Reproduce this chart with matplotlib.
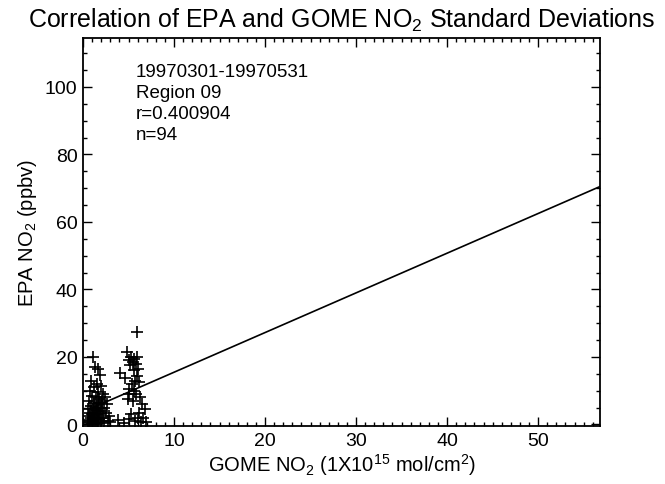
import numpy as np
import matplotlib
matplotlib.use("Agg")
import matplotlib.pyplot as plt
from matplotlib.ticker import MultipleLocator

plt.rcParams['font.family'] = ['Liberation Sans', 'DejaVu Sans']
plt.rcParams['mathtext.fontset'] = 'custom'
plt.rcParams['mathtext.rm'] = 'Liberation Sans'
plt.rcParams['mathtext.it'] = 'Liberation Sans:italic'

# GOME NO2 std (1e15 mol/cm2) and EPA NO2 std (ppbv)
gome_a = [1.1, 1.3, 1.9, 1.5, 2.0, 1.2, 0.8, 1.6, 2.2, 1.0, 1.4, 2.4, 1.8, 0.7, 1.2,
          2.0, 1.6, 2.6, 0.9, 1.4, 1.9, 2.3, 0.6, 1.1, 1.7, 2.1, 0.8, 1.3, 2.5, 1.0,
          1.5, 1.9, 0.7, 1.2, 1.6, 2.2, 0.9, 1.4, 1.8, 0.6, 1.1, 2.0, 2.7, 0.8, 1.3,
          1.7, 1.0, 1.5, 2.3, 0.5, 3.0, 2.9, 0.9, 1.7, 1.2, 2.1, 1.5, 0.7]
epa_a = [20.1, 17.1, 14.6, 12.0, 11.5, 11.0, 10.0, 9.5, 9.0, 8.5, 8.0, 8.0, 7.5, 7.0, 6.5,
         6.5, 6.0, 6.0, 5.5, 5.0, 5.0, 5.0, 4.5, 4.5, 4.0, 4.0, 3.5, 3.5, 3.5, 3.0,
         3.0, 3.0, 2.5, 2.5, 2.0, 2.0, 2.0, 1.5, 1.5, 1.2, 1.0, 1.0, 1.0, 0.6, 0.5,
         0.5, 0.2, 0.2, 0.3, 0.3, 0.8, 2.5, 13.0, 16.5, 1.8, 7.0, 4.2, 0.9]

gome_b = [5.9, 4.8, 5.3, 5.6, 5.9, 5.5, 5.8, 5.2, 4.1, 4.6, 5.9, 5.7, 6.1, 5.4, 5.0,
          5.6, 5.1, 5.8, 6.3, 4.9, 5.5, 6.5, 6.8, 6.2, 5.3, 6.0, 6.6, 5.0, 3.9, 5.7,
          6.4, 6.9, 4.5, 5.6, 6.0, 5.0]
epa_b = [27.3, 21.6, 20.0, 19.5, 20.0, 18.5, 18.0, 17.5, 15.2, 13.7, 14.5, 13.0, 12.5, 12.0, 10.5,
         10.0, 9.0, 9.0, 8.0, 7.5, 7.0, 6.0, 4.5, 3.5, 3.0, 2.0, 1.8, 1.7, 1.2, 1.0,
         0.6, 0.8, 0.5, 16.0, 16.5, 19.2]

# fitted line end points
fit_x = [1.0, 56.8]
fit_y = [4.9, 70.5]

info_lines = ["19970301-19970531", "Region 09", "r=0.400904", "n=94"]

gome = gome_a + gome_b
epa = epa_a + epa_b

fig = plt.figure(figsize=(6.65, 4.85), dpi=100)
ax = fig.add_axes([0.1248, 0.1206, 0.7775, 0.799])

ax.plot(gome, epa, linestyle='none', marker='+', markersize=8.5, mew=1.2, color='black')
ax.plot(fit_x, fit_y, color='black', linewidth=1.2)

ax.set_xlim(0, 56.8)
ax.set_ylim(-0.3, 114.5)
ax.xaxis.set_major_locator(MultipleLocator(10))
ax.xaxis.set_minor_locator(MultipleLocator(1))
ax.yaxis.set_major_locator(MultipleLocator(20))
ax.yaxis.set_minor_locator(MultipleLocator(5))
ax.tick_params(which='both', direction='in', top=True, right=True, width=1.0, labelsize=14)
ax.tick_params(which='major', length=6.7)
ax.tick_params(axis='x', pad=5)
ax.tick_params(axis='y', pad=4)
ax.tick_params(which='minor', length=3.2)
for s in ax.spines.values():
    s.set_linewidth(1.3)

ax.set_title("Correlation of EPA and GOME NO$_2$ Standard Deviations", fontsize=18, pad=8)
ax.set_xlabel("GOME NO$_2$ (1X10$^{15}$ mol/cm$^2$)", fontsize=14.5, labelpad=1)
ax.set_ylabel("EPA NO$_2$ (ppbv)", fontsize=14.5, labelpad=4)

ax.text(0.1025, 0.935, "\n".join(info_lines), transform=ax.transAxes, fontsize=13.5,
        va='top', ha='left', linespacing=1.3)

fig.savefig("out.png", dpi=100)
